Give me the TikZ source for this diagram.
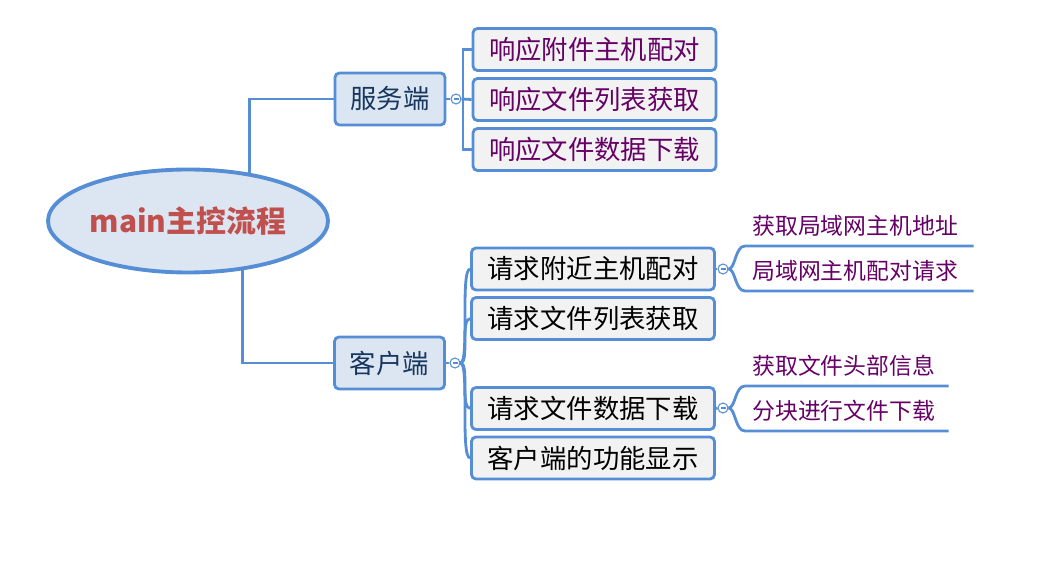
\documentclass[tikz,border=0pt]{standalone}
\usepackage{fontspec}
\setmainfont{Noto Sans CJK SC}
\usetikzlibrary{shapes.geometric, calc}

\begin{document}
\begin{tikzpicture}[x=0.02cm, y=-0.02cm]

% ---------------------------------------------------------------- colours
\definecolor{c1}{HTML}{558ED5}   % every line and border
\definecolor{c2}{HTML}{DCE6F2}   % root and the two branches
\definecolor{c3}{HTML}{F2F2F2}   % the task boxes
\definecolor{c4}{HTML}{C0504D}   % root text
\definecolor{c5}{HTML}{17375E}   % branch text
\definecolor{c6}{HTML}{660066}   % server tasks, the underlined leaves

% ================================================================
% Geometry, in pixels of the 1042 x 567 frame (y runs downwards).
%
%   root ellipse centred (188, 221), about 284 x 107
%   branches: server at (390, 99), client at (389.5, 363)
%   task boxes 245 wide, 43 high; server column x = 594.5, client x = 593
%   server rows 49.5 / 99.5 / 149.5, client rows 269 / 318.5 / 408.5 / 458
%   fork bar of the server at x = 463, square elbows
%   leaves: underlines start at x = 745, text 20 px above its line
% ================================================================

\def\srvx{594.5}
\def\clix{593}
\def\leafx{745}

\tikzset{
    rootnode/.style={
        ellipse, draw=c1, line width=2.2pt, fill=c2,
        minimum width=5.6cm, minimum height=2.06cm, inner sep=0pt,
        font=\fontsize{17}{20}\selectfont\bfseries, text=c4,
    },
    branch/.style={
        draw=c1, line width=1.6pt, fill=c2, rounded corners=2.5pt,
        minimum width=2.2cm, minimum height=1.04cm, inner sep=0pt,
        font=\fontsize{15}{18}\selectfont, text=c5,
    },
    taskbox/.style={
        draw=c1, line width=1.6pt, fill=c3, rounded corners=2.5pt,
        minimum width=4.86cm, minimum height=0.84cm, inner sep=0pt,
        font=\fontsize{15}{18}\selectfont,
    },
    knob/.style={
        circle, draw=c1, line width=0.6pt, fill=white,
        minimum size=0.2cm, inner sep=0pt,
        path picture={\draw[c1, line width=0.6pt]
            ($(path picture bounding box.west)!0.25!(path picture bounding box.east)$) --
            ($(path picture bounding box.west)!0.75!(path picture bounding box.east)$);},
    },
    leaf/.style={
        anchor=south west, inner xsep=0.14cm, inner ysep=0pt,
        minimum height=0.8cm, text width=#1, align=left,
        font=\fontsize{13}{15}\selectfont, text=c6,
    },
    link/.style={draw=c1, line width=1.6pt},
}

\useasboundingbox (0,0) rectangle (1042,567);

% ================================================================ root and branches
\node[rootnode] (root) at (188,221) {main主控流程};

\node[branch] (srv) at (390,99)    {服务端};
\node[branch] (cli) at (389.5,363) {客户端};

\draw[link] (root.38)  |- (srv.west);
\draw[link] (root.-42) |- (cli.west);

% ================================================================ server side
\node[taskbox, text=c6] (srv1) at (\srvx,49.5)  {响应附件主机配对};
\node[taskbox, text=c6] (srv2) at (\srvx,99.5)  {响应文件列表获取};
\node[taskbox, text=c6] (srv3) at (\srvx,149.5) {响应文件数据下载};

\node[knob] (srvknob) at (456,99) {};
\coordinate (srvfork) at (463,99);

\draw[link] (srv.east) -- (srvknob.west);
\draw[link] (srvknob.east) -- (srv2.west);
\draw[link] (srv1.west) -| (srvfork) |- (srv3.west);

% ================================================================ client side
\node[taskbox] (cli1) at (\clix,269)   {请求附近主机配对};
\node[taskbox] (cli2) at (\clix,318.5) {请求文件列表获取};
\node[taskbox] (cli3) at (\clix,408.5) {请求文件数据下载};
\node[taskbox] (cli4) at (\clix,458)   {客户端的功能显示};

\node[knob] (cliknob) at (455,363) {};
\draw[link] (cli.east) -- (cliknob.west);
\foreach \t in {cli1, cli2, cli3, cli4}
    \draw[link] (cliknob.east) .. controls +(9,0) and +(-10,0) .. (\t.west);

% ================================================================ leaves
\node[leaf=4.28cm] (leafa) at (\leafx,246) {获取局域网主机地址};
\node[leaf=4.28cm] (leafb) at (\leafx,291) {局域网主机配对请求};
\node[leaf=3.78cm] (leafc) at (\leafx,386) {获取文件头部信息};
\node[leaf=3.78cm] (leafd) at (\leafx,431) {分块进行文件下载};

\node[knob] (reqknob) at (723,269) {};
\node[knob] (dlknob)  at (723,408) {};
\draw[link] (cli1.east) -- (reqknob.west);
\draw[link] (cli3.east) -- (dlknob.west);

\foreach \k/\l in {reqknob/leafa, reqknob/leafb, dlknob/leafc, dlknob/leafd}
    \draw[link] (\k.east) .. controls +(7,0) and +(-10,0) .. (\l.south west)
        -- (\l.south east);

\end{tikzpicture}
\end{document}
